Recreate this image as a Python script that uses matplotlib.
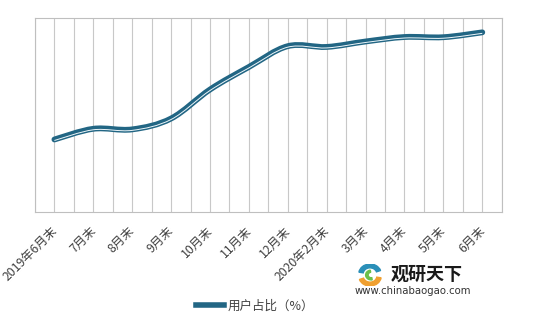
import numpy as np
import matplotlib
matplotlib.use("Agg")
import matplotlib.pyplot as plt
from matplotlib.path import Path
from matplotlib.patches import PathPatch, Wedge
from matplotlib.lines import Line2D
from matplotlib.transforms import offset_copy, ScaledTranslation

plt.rcParams['font.family'] = ['Noto Sans CJK SC', 'DejaVu Sans']

categories = ["2019年6月末", "7月末", "8月末", "9月末", "10月末", "11月末", "12月末",
              "2020年2月末", "3月末", "4月末", "5月末", "6月末"]
user_share = [37.3, 42.8, 42.5, 48.1, 63.0, 74.6, 85.3, 84.9, 87.7, 90.0, 89.9, 92.4]
series_name = "用户占比（%）"

fig = plt.figure(figsize=(5.55, 3.29), dpi=100)
ax = fig.add_axes([0.063, 0.3556, 0.841, 0.591])

x = np.arange(len(categories), dtype=float)
y = np.array(user_share, dtype=float)

# smooth curve (Catmull-Rom -> cubic Bezier), built from the data points
verts = [(x[0], y[0])]
codes = [Path.MOVETO]
n = len(x)
for i in range(n - 1):
    p0 = np.array([x[max(i - 1, 0)], y[max(i - 1, 0)]])
    p1 = np.array([x[i], y[i]])
    p2 = np.array([x[i + 1], y[i + 1]])
    p3 = np.array([x[min(i + 2, n - 1)], y[min(i + 2, n - 1)]])
    c1 = p1 + (p2 - p0) / 6.0
    c2 = p2 - (p3 - p1) / 6.0
    verts += [tuple(c1), tuple(c2), tuple(p2)]
    codes += [Path.CURVE4] * 3
path = Path(verts, codes)

dark = '#226684'
ax.add_patch(PathPatch(path, facecolor='none', edgecolor=dark, lw=4.2,
                       capstyle='round', zorder=5))
tr = offset_copy(ax.transData, fig=fig, x=0, y=-1.0, units='dots')
ax.add_patch(PathPatch(path, facecolor='none', edgecolor='#eef6fa', lw=0.7,
                       transform=tr, zorder=6))

ax.set_xlim(-0.5, n - 0.5)
ax.set_ylim(0, 100)

# vertical gridlines every half category
for gx in np.arange(-0.5, n - 0.5 + 0.01, 0.5):
    ax.axvline(gx, color='#c8c8c8', lw=0.8, zorder=1)

for s in ax.spines.values():
    s.set_color('#bfbfbf')
    s.set_linewidth(0.8)

ax.set_yticks([])
ax.set_xticks(x)
ax.set_xticklabels(categories, rotation=45, ha='right', va='top',
                   rotation_mode='anchor', fontsize=8.8, color='#404040')
ax.tick_params(axis='x', length=0, pad=9)
shift = ScaledTranslation(-4 / 100, 0, fig.dpi_scale_trans)
for lab in ax.get_xticklabels():
    lab.set_transform(lab.get_transform() + shift)

# legend
handle = Line2D([], [], color=dark, lw=4.0)
fig.legend([handle], [series_name], loc='center', bbox_to_anchor=(255 / 555, 1 - 306 / 329),
           frameon=False, fontsize=9, handlelength=2.2, handletextpad=0.3,
           labelcolor='#404040')

# watermark
fig.text(391 / 555, 1 - 274 / 329, "观研天下", fontsize=13, fontweight='bold',
         color='#1a1a1a', ha='left', va='center')
fig.text(355 / 555, 1 - 291 / 329, "www.chinabaogao.com", fontsize=7.3,
         color='#333333', ha='left', va='center', family='DejaVu Sans')
# simple logo swirl
lax = fig.add_axes([355 / 555, 1 - 286 / 329, 30 / 555, 22 / 329])
lax.set_xlim(-1.2, 1.2)
lax.set_ylim(-1, 1)
lax.axis('off')
lax.add_patch(Wedge((0, 0.1), 0.9, 20, 170, width=0.35, color='#2a8fb8'))
lax.add_patch(Wedge((0, -0.1), 0.9, 200, 350, width=0.35, color='#f0a030'))
lax.add_patch(Wedge((0.1, 0), 0.45, 100, 280, width=0.2, color='#6cc04a'))

fig.savefig("out.png", dpi=100, facecolor='white')
